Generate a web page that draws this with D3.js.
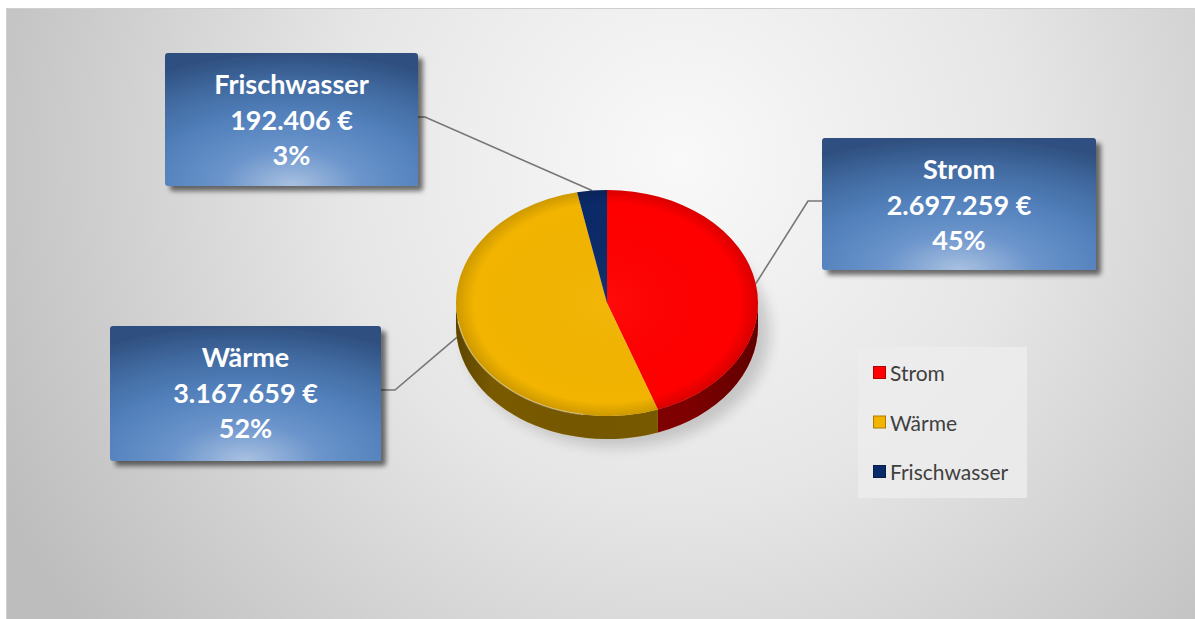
<!DOCTYPE html>
<html>
<head>
<meta charset="utf-8">
<script src="https://cdn.jsdelivr.net/npm/d3@7"></script>
<style>
html,body{margin:0;padding:0;background:#fff;}
svg{display:block;}
</style>
</head>
<body>
<svg id="chart" width="1195" height="619"></svg>
<script>
// ---- data ----
const categories = ["Strom", "Wärme", "Frischwasser"];
const values = [2697259, 3167659, 192406];
const colors = ["#ff0000", "#f2b400", "#0b2a68"];

// ---- layout ----
const W = 1195, H = 619;
const cx = 607, cy = 303, rx = 151, ry = 113, depth = 23;
const boxes = {
  "Strom":        {x: 822, y: 138, w: 274, h: 132, side: "left",  ay: 201},
  "Wärme":        {x: 110, y: 326, w: 271, h: 135, side: "right", ay: 390},
  "Frischwasser": {x: 165, y: 53,  w: 253, h: 133, side: "right", ay: 117}
};

const de = d3.formatLocale({decimal: ",", thousands: ".", grouping: [3], currency: ["", " €"]});
const fmtEuro = de.format("$,.0f");
const fmtPct = d3.format(".0%");

const svg = d3.select("#chart");
const defs = svg.append("defs");

// background gradient
const bg = defs.append("radialGradient").attr("id", "bg")
  .attr("gradientUnits", "userSpaceOnUse")
  .attr("cx", 680).attr("cy", 160).attr("r", 760);
bg.append("stop").attr("offset", 0).attr("stop-color", "#f9f9f9");
bg.append("stop").attr("offset", 0.45).attr("stop-color", "#e6e6e6");
bg.append("stop").attr("offset", 1).attr("stop-color", "#bdbdbd");

// box gradient
const bx = defs.append("radialGradient").attr("id", "boxg")
  .attr("cx", 0.5).attr("cy", 1.0).attr("r", 1.0).attr("fx", 0.5).attr("fy", 1.0);
[[0, "#a9c1e1"], [0.28, "#6a94cb"], [0.55, "#5280bb"], [0.8, "#40699f"], [1, "#2f5080"]]
  .forEach(([o, c]) => bx.append("stop").attr("offset", o).attr("stop-color", c));

// box shadow
const sh = defs.append("filter").attr("id", "shadow").attr("x", "-10%").attr("y", "-10%").attr("width", "130%").attr("height", "130%");
sh.append("feGaussianBlur").attr("in", "SourceAlpha").attr("stdDeviation", 2.5).attr("result", "b");
sh.append("feOffset").attr("dx", 5).attr("dy", 5).attr("result", "o");
sh.append("feComponentTransfer").append("feFuncA").attr("type", "linear").attr("slope", 0.55);
const shm = sh.append("feMerge");
shm.append("feMergeNode");
shm.append("feMergeNode").attr("in", "SourceGraphic");

// pie shadow blur
defs.append("filter").attr("id", "blur").attr("x", "-30%").attr("y", "-30%").attr("width", "160%").attr("height", "160%")
  .append("feGaussianBlur").attr("stdDeviation", 7);

// side shading gradient
const sg = defs.append("linearGradient").attr("id", "sideShade")
  .attr("gradientUnits", "userSpaceOnUse").attr("x1", cx - rx).attr("x2", cx + rx).attr("y1", 0).attr("y2", 0);
[[0, 0.62], [0.12, 0.5], [0.45, 0.52], [0.75, 0.5], [1, 0.62]].forEach(([o, a]) =>
  sg.append("stop").attr("offset", o).attr("stop-color", "#000").attr("stop-opacity", a));

// top face shading
const tg = defs.append("radialGradient").attr("id", "topShade")
  .attr("cx", 0.5).attr("cy", 0.5).attr("r", 0.5);
tg.append("stop").attr("offset", 0).attr("stop-color", "#fff").attr("stop-opacity", 0.04);
tg.append("stop").attr("offset", 0.88).attr("stop-color", "#000").attr("stop-opacity", 0);
tg.append("stop").attr("offset", 1).attr("stop-color", "#000").attr("stop-opacity", 0.15);

// background
svg.append("rect").attr("x", 6.5).attr("y", 8.5).attr("width", W - 6).attr("height", H - 8)
  .attr("fill", "url(#bg)").attr("stroke", "#cfcfcf").attr("stroke-width", 1);

// ---- pie ----
const total = d3.sum(values);
const pie = d3.pie().sort(null).value(d => d.v).startAngle(0).endAngle(2 * Math.PI);
const arcs = pie(categories.map((c, i) => ({c, v: values[i], col: colors[i]})));

const pt = (a, dz = 0) => [cx + rx * Math.sin(a), cy - ry * Math.cos(a) + dz];

// pie shadow
svg.append("ellipse").attr("cx", cx + 10).attr("cy", cy + depth + 6).attr("rx", rx + 2).attr("ry", ry + 2)
  .attr("fill", "#000").attr("opacity", 0.16).attr("filter", "url(#blur)");

// leader lines
const lg = svg.append("g");
arcs.forEach(d => {
  const b = boxes[d.data.c];
  const mid = (d.startAngle + d.endAngle) / 2;
  const p = pt(mid);
  let pts;
  if (b.side === "left") pts = [[b.x, b.ay], [b.x - 14, b.ay], p];
  else pts = [[b.x + b.w, b.ay], [b.x + b.w + 7 + (d.data.c === "Wärme" ? 7 : 0), b.ay], p];
  lg.append("path").attr("d", d3.line()(pts)).attr("fill", "none")
    .attr("stroke", "#767676").attr("stroke-width", 1.6);
});

// sides (front half visible)
const sides = svg.append("g");
arcs.forEach(d => {
  const s = Math.max(d.startAngle, Math.PI / 2), e = Math.min(d.endAngle, 3 * Math.PI / 2);
  if (s >= e) return;
  const p0 = pt(s), p1 = pt(e), q1 = pt(e, depth), q0 = pt(s, depth);
  const path = `M${p0}A${rx},${ry} 0 0 1 ${p1}L${q1}A${rx},${ry} 0 0 0 ${q0}Z`;
  sides.append("path").attr("d", path).attr("fill", d.data.col);
  sides.append("path").attr("d", path).attr("fill", "url(#sideShade)");
});

// top faces
const tops = svg.append("g");
arcs.forEach(d => {
  const p0 = pt(d.startAngle), p1 = pt(d.endAngle);
  const large = d.endAngle - d.startAngle > Math.PI ? 1 : 0;
  tops.append("path")
    .attr("d", `M${cx},${cy}L${p0}A${rx},${ry} 0 ${large} 1 ${p1}Z`)
    .attr("fill", d.data.col);
});
tops.append("ellipse").attr("cx", cx).attr("cy", cy).attr("rx", rx).attr("ry", ry)
  .attr("fill", "url(#topShade)");
// rim highlight on the lower-left
tops.append("path")
  .attr("d", `M${pt(Math.PI * 1.05)}A${rx},${ry} 0 0 1 ${pt(Math.PI * 1.45)}`)
  .attr("fill", "none").attr("stroke", "#fff").attr("stroke-opacity", 0.35).attr("stroke-width", 1.5);

// ---- label boxes ----
const bgp = svg.append("g");
arcs.forEach(d => {
  const b = boxes[d.data.c];
  const g = bgp.append("g");
  g.append("rect").attr("x", b.x).attr("y", b.y).attr("width", b.w).attr("height", b.h)
    .attr("rx", 3).attr("fill", "url(#boxg)").attr("filter", "url(#shadow)");
  const lines = [d.data.c, fmtEuro(d.data.v), fmtPct(d.data.v / total)];
  lines.forEach((t, i) => {
    g.append("text").attr("x", b.x + b.w / 2).attr("y", b.y + 41 + i * 35.5)
      .attr("text-anchor", "middle").attr("fill", "#fff")
      .attr("font-family", "Lato, 'Open Sans', sans-serif").attr("font-weight", 700)
      .attr("font-size", 27).text(t);
  });
});

// ---- legend ----
const leg = svg.append("g");
leg.append("rect").attr("x", 858).attr("y", 347).attr("width", 169).attr("height", 151)
  .attr("fill", "#ececec").attr("opacity", 0.85);
categories.forEach((c, i) => {
  const y = 381 + i * 49.5;
  leg.append("rect").attr("x", 873.5).attr("y", y - 14.5).attr("width", 12).attr("height", 12)
    .attr("fill", colors[i]).attr("stroke", d3.color(colors[i]).darker(1)).attr("stroke-width", 1);
  leg.append("text").attr("x", 890).attr("y", y).attr("fill", "#404040")
    .attr("font-family", "Lato, 'Open Sans', sans-serif").attr("font-size", 21).text(c);
});
</script>
</body>
</html>
